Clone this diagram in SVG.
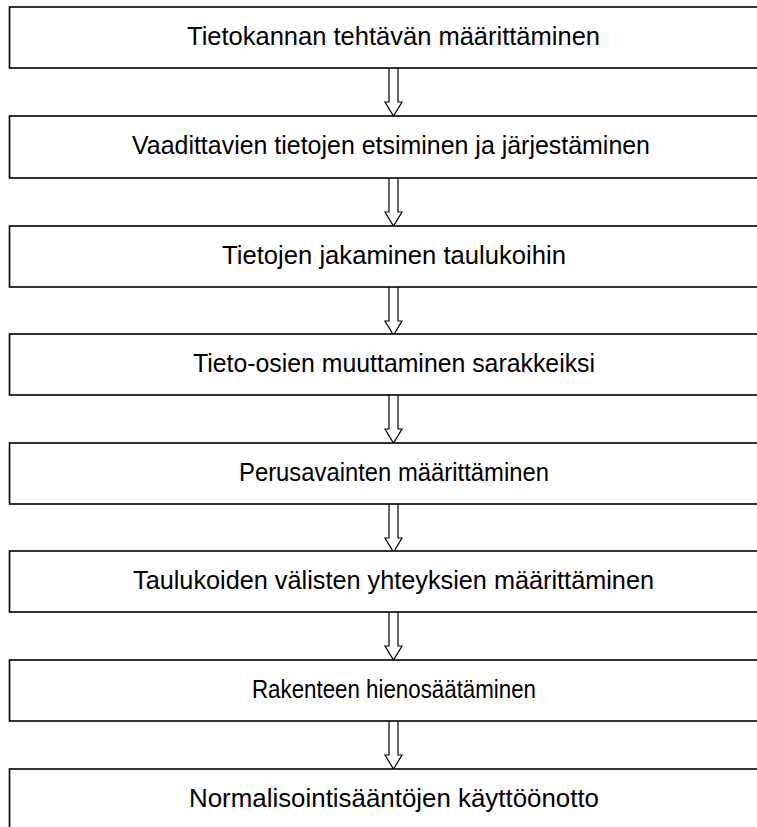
<svg xmlns="http://www.w3.org/2000/svg" width="757" height="827" viewBox="0 0 757 827">
<style>
.box{fill:#fff;stroke:#000;stroke-width:1.6}
.lbl{font-family:"Liberation Sans Narrow","Liberation Sans",Arial,sans-serif;font-size:25px;fill:#000;text-anchor:middle}
.arr{fill:#fff;stroke:#000;stroke-width:1.2;stroke-linejoin:miter}
</style>
<rect width="757" height="827" fill="#fff"/>
<defs>
<path id="ar" d="M389,0 V34 H385 L393.5,48 L402,34 H398 V0"/>
</defs>
<g id="connectors">
<use href="#ar" class="arr" transform="translate(0,68)"/>
<use href="#ar" class="arr" transform="translate(0,178)"/>
<use href="#ar" class="arr" transform="translate(0,287)"/>
<use href="#ar" class="arr" transform="translate(0,395)"/>
<use href="#ar" class="arr" transform="translate(0,504)"/>
<use href="#ar" class="arr" transform="translate(0,612)"/>
<use href="#ar" class="arr" transform="translate(0,721)"/>
</g>
<g id="n1"><rect class="box" x="9.5" y="7" width="760" height="61"/><text class="lbl" x="393.5" y="45" textLength="413" lengthAdjust="spacingAndGlyphs">Tietokannan tehtävän määrittäminen</text></g>
<g id="n2"><rect class="box" x="9.5" y="116" width="760" height="62"/><text class="lbl" x="391" y="154" textLength="518" lengthAdjust="spacingAndGlyphs">Vaadittavien tietojen etsiminen ja järjestäminen</text></g>
<g id="n3"><rect class="box" x="9.5" y="226" width="760" height="61"/><text class="lbl" x="394" y="264" textLength="344" lengthAdjust="spacingAndGlyphs">Tietojen jakaminen taulukoihin</text></g>
<g id="n4"><rect class="box" x="9.5" y="334" width="760" height="61"/><text class="lbl" x="394" y="372" textLength="402" lengthAdjust="spacingAndGlyphs">Tieto-osien muuttaminen sarakkeiksi</text></g>
<g id="n5"><rect class="box" x="9.5" y="443" width="760" height="61"/><text class="lbl" x="394" y="481" textLength="310" lengthAdjust="spacingAndGlyphs">Perusavainten määrittäminen</text></g>
<g id="n6"><rect class="box" x="9.5" y="551" width="760" height="61"/><text class="lbl" x="393.5" y="589" textLength="521" lengthAdjust="spacingAndGlyphs">Taulukoiden välisten yhteyksien määrittäminen</text></g>
<g id="n7"><rect class="box" x="9.5" y="660" width="760" height="61"/><text class="lbl" x="394" y="698" textLength="284" lengthAdjust="spacingAndGlyphs">Rakenteen hienosäätäminen</text></g>
<g id="n8"><rect class="box" x="9.5" y="769" width="760" height="80"/><text class="lbl" x="394" y="807" textLength="410" lengthAdjust="spacingAndGlyphs">Normalisointisääntöjen käyttöönotto</text></g>
</svg>
